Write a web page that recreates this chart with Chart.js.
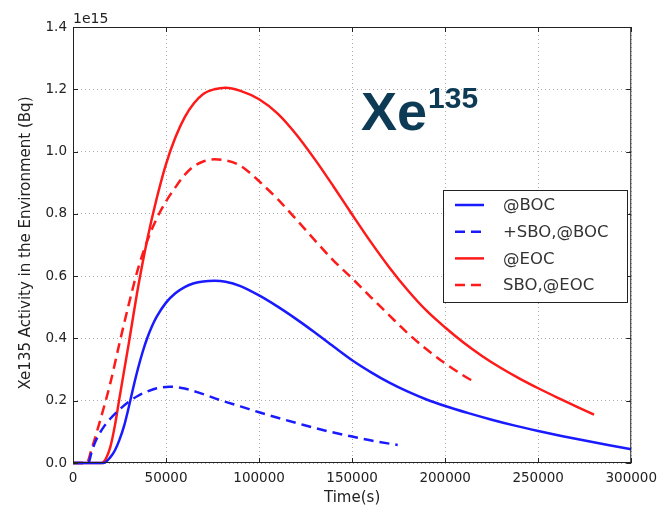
<!DOCTYPE html>
<html lang="en">
<head>
<meta charset="UTF-8">
<title>Xe135 Activity</title>
<script src="https://cdn.jsdelivr.net/npm/chart.js"></script>
<style>
    body { margin: 0; background: #fff; }
    canvas { display: block; }
</style>
</head>
<body>
<canvas id="xeChart" width="664" height="508"></canvas>
<script>
    // time in seconds, activity in units of 1e15 Bq
    const bocTime = [0, 16500, 20000, 22500, 25000, 27500, 30000, 32500, 35000, 37500, 40000, 42500, 45000, 50000, 55000, 60000, 65000, 70000, 76000, 82000, 90000, 100000, 110000, 120000, 130000, 140000, 150000, 160000, 170000, 180000, 190000, 200000, 212500, 225000, 237500, 250000, 262500, 275000, 287500, 300000];
    const bocValue = [0, 0, 0.018, 0.04, 0.075, 0.12, 0.18, 0.245, 0.305, 0.358, 0.403, 0.44, 0.47, 0.515, 0.545, 0.565, 0.577, 0.583, 0.585, 0.582, 0.568, 0.538, 0.502, 0.462, 0.419, 0.374, 0.33, 0.292, 0.258, 0.229, 0.204, 0.183, 0.16, 0.139, 0.12, 0.103, 0.087, 0.072, 0.058, 0.044];

    const sboBocTime = [0, 8200, 10000, 12000, 14000, 17000, 20000, 25000, 30000, 35000, 40000, 45000, 52000, 60000, 68000, 80000, 90000, 100000, 112000, 124000, 137000, 150000, 162000, 174500];
    const sboBocValue = [0, 0, 0.035, 0.068, 0.092, 0.12, 0.142, 0.172, 0.197, 0.216, 0.23, 0.24, 0.245, 0.239, 0.225, 0.2, 0.182, 0.163, 0.142, 0.122, 0.102, 0.085, 0.07, 0.058];

    const eocTime = [0, 15300, 17500, 20000, 22500, 25000, 30000, 35000, 40000, 45000, 50000, 55000, 60000, 65000, 70000, 76000, 82000, 90000, 100000, 110000, 120000, 130000, 140000, 150000, 160000, 170000, 180000, 190000, 200000, 210000, 220000, 230000, 240000, 250000, 260000, 270000, 280000];
    const eocValue = [0, 0, 0.012, 0.05, 0.12, 0.21, 0.385, 0.565, 0.72, 0.85, 0.96, 1.045, 1.11, 1.155, 1.185, 1.2, 1.205, 1.195, 1.168, 1.122, 1.055, 0.975, 0.888, 0.798, 0.71, 0.628, 0.554, 0.489, 0.435, 0.386, 0.343, 0.305, 0.271, 0.24, 0.211, 0.183, 0.155];

    const sboEocTime = [0, 7300, 10000, 15000, 20000, 25000, 30000, 35000, 40000, 45000, 50000, 55000, 60000, 65000, 70000, 76000, 82000, 89000, 95000, 100000, 110000, 120000, 130000, 140000, 150000, 160000, 170000, 180000, 190000, 200000, 210000, 215500];
    const sboEocValue = [0, 0, 0.045, 0.145, 0.255, 0.385, 0.51, 0.625, 0.715, 0.785, 0.84, 0.885, 0.925, 0.953, 0.968, 0.975, 0.972, 0.958, 0.932, 0.905, 0.847, 0.782, 0.715, 0.65, 0.593, 0.533, 0.474, 0.416, 0.365, 0.32, 0.28, 0.261];

    const seriesLabels = ['@BOC', '+SBO,@BOC', '@EOC', 'SBO,@EOC'];
    const xTicks = [0, 50000, 100000, 150000, 200000, 250000, 300000];
    const yTicks = [0, 0.2, 0.4, 0.6, 0.8, 1.0, 1.2, 1.4];

    const toPoints = (ts, vs) => ts.map((t, i) => ({ x: t, y: vs[i] }));

    const BLUE = '#1a1aff';
    const RED = '#ff1a1a';
    const DASH = [10, 6];
    const FONT = '"DejaVu Sans", sans-serif';

    // frame, inward ticks, axis label, legend box and the big Xe135 label
    const decor = {
        id: 'decor',
        afterDraw(chart) {
            const { ctx, chartArea: a, scales: { x, y } } = chart;
            ctx.save();
            ctx.strokeStyle = '#222';
            ctx.lineWidth = 1;
            ctx.strokeRect(a.left + 0.5, a.top + 0.5, a.width - 1, a.height - 1);
            ctx.beginPath();
            xTicks.forEach(v => {
                const px = Math.round(x.getPixelForValue(v)) + 0.5;
                ctx.moveTo(px, a.bottom); ctx.lineTo(px, a.bottom - 5);
                ctx.moveTo(px, a.top); ctx.lineTo(px, a.top + 5);
            });
            yTicks.forEach(v => {
                const py = Math.round(y.getPixelForValue(v)) + 0.5;
                ctx.moveTo(a.left, py); ctx.lineTo(a.left + 5, py);
                ctx.moveTo(a.right, py); ctx.lineTo(a.right - 5, py);
            });
            ctx.stroke();

            // 1e15 offset text
            ctx.fillStyle = '#222';
            ctx.font = '14px ' + FONT;
            ctx.textAlign = 'left';
            ctx.textBaseline = 'alphabetic';
            ctx.fillText('1e15', a.left, a.top - 4);

            // y axis label
            ctx.save();
            ctx.translate(26, 243);
            ctx.rotate(-Math.PI / 2);
            ctx.textAlign = 'center';
            ctx.textBaseline = 'middle';
            ctx.font = '15px ' + FONT;
            ctx.fillText('Xe135 Activity in the Environment (Bq)', 0, 0);
            ctx.restore();

            // legend
            const lx = 443, ly = 190, lw = 184, lh = 112;
            ctx.fillStyle = '#fff';
            ctx.fillRect(lx, ly, lw, lh);
            ctx.strokeStyle = '#222';
            ctx.strokeRect(lx + 0.5, ly + 0.5, lw, lh);
            ctx.font = '16.5px ' + FONT;
            ctx.textBaseline = 'middle';
            chart.data.datasets.forEach((ds, i) => {
                const ry = 205 + i * 26.7;
                ctx.strokeStyle = ds.borderColor;
                ctx.lineWidth = 2.5;
                ctx.setLineDash(ds.borderDash || []);
                ctx.beginPath();
                ctx.moveTo(455, ry); ctx.lineTo(484, ry);
                ctx.stroke();
                ctx.setLineDash([]);
                ctx.fillStyle = '#333';
                ctx.fillText(ds.label, 503, ry + 1);
            });

            // big title
            ctx.fillStyle = '#0d3a55';
            ctx.textBaseline = 'alphabetic';
            ctx.font = 'bold 54px "Liberation Sans", Arial, sans-serif';
            ctx.fillText('Xe', 361, 130);
            const w = ctx.measureText('Xe').width;
            ctx.font = 'bold 30px "Liberation Sans", Arial, sans-serif';
            ctx.fillText('135', 361 + w + 1, 108);
            ctx.restore();
        }
    };

    const mkSet = (label, ts, vs, color, dashed) => ({
        label: label,
        data: toPoints(ts, vs),
        borderColor: color,
        borderWidth: 2.5,
        borderDash: dashed ? DASH : [],
        pointRadius: 0,
        cubicInterpolationMode: 'monotone',
        showLine: true,
        clip: false,
        fill: false
    });

    new Chart(document.getElementById('xeChart'), {
        type: 'scatter',
        data: {
            datasets: [
                mkSet(seriesLabels[0], bocTime, bocValue, BLUE, false),
                mkSet(seriesLabels[1], sboBocTime, sboBocValue, BLUE, true),
                mkSet(seriesLabels[2], eocTime, eocValue, RED, false),
                mkSet(seriesLabels[3], sboEocTime, sboEocValue, RED, true)
            ]
        },
        options: {
            responsive: false,
            animation: false,
            layout: { padding: { top: 27, right: 29, left: 0, bottom: 0 } },
            plugins: {
                legend: { display: false },
                tooltip: { enabled: false }
            },
            scales: {
                x: {
                    type: 'linear',
                    min: 0,
                    max: 300000,
                    afterFit: (s) => { s.height = 45; },
                    afterBuildTicks: (s) => { s.ticks = xTicks.map(v => ({ value: v })); },
                    ticks: {
                        color: '#222',
                        font: { family: FONT, size: 13.5 },
                        padding: 7,
                        maxRotation: 0,
                        callback: (v) => String(v)
                    },
                    grid: { color: '#aaa', lineWidth: 1, drawTicks: false },
                    border: { display: false, dash: [1, 3] },
                    title: {
                        display: true,
                        text: 'Time(s)',
                        color: '#222',
                        font: { family: FONT, size: 15 },
                        padding: { top: 0, bottom: 1 }
                    }
                },
                y: {
                    min: 0,
                    max: 1.4,
                    afterFit: (s) => { s.width = 73; },
                    afterBuildTicks: (s) => { s.ticks = yTicks.map(v => ({ value: v })); },
                    ticks: {
                        color: '#222',
                        font: { family: FONT, size: 13.5 },
                        padding: 6,
                        callback: (v) => v.toFixed(1)
                    },
                    grid: { color: '#aaa', lineWidth: 1, drawTicks: false },
                    border: { display: false, dash: [1, 3] }
                }
            }
        },
        plugins: [decor]
    });
</script>
</body>
</html>
